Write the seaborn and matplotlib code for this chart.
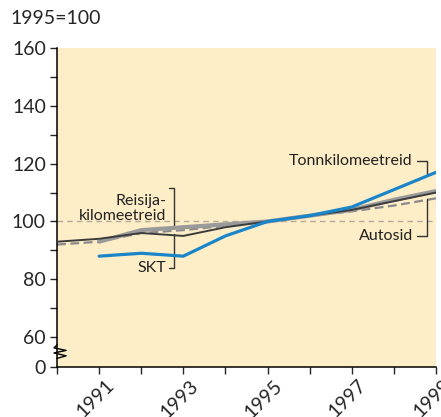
import numpy as np
import pandas as pd
import matplotlib
matplotlib.use('Agg')
import matplotlib.pyplot as plt
import matplotlib.transforms as mtransforms
import seaborn as sns

# values (1995 = 100)
years = [1990, 1991, 1992, 1993, 1994, 1995, 1996, 1997, 1998, 1999]
tonnkilomeetreid = [np.nan, 88, 89, 88, 95, 100, 102, 105, 111, 117]
skt = [93, 94, 96, 95, 98, 100, 102, 104, 107, 110]
reisijakilomeetreid = [np.nan, 93, 97, 98, 99, 100, 102, 104, 107.5, 110.5]
autosid = [92, 93, 96, 97, 98.5, 100, 102, 103.5, 105.5, 108]

y_ticks = [60, 70, 80, 90, 100, 110, 120, 130, 140, 150, 160]
year_labels = ['1991', '1993', '1995', '1997', '1999']

sns.set_style('white')
plt.rcParams['font.family'] = ['Lato', 'DejaVu Sans']

fig = plt.figure(figsize=(4.41, 4.17), dpi=100)
ax = fig.add_axes([0.1293, 0.1199, 0.8594, 0.765])
ax.set_facecolor('#fdeec8')

# axis break: value 0 sits 30px below 60
y_zero = 60 - 30 / 2.9
ax.set_ylim(y_zero, 160)
ax.set_xlim(1990, 1999)

ax.axhline(100, color='#b3aa99', lw=1, ls=(0, (4, 3)), zorder=1)

sns.lineplot(x=years, y=autosid, ax=ax, color='#8a8a8a', lw=1.6,
             linestyle=(0, (4, 2)), zorder=2)
sns.lineplot(x=years, y=reisijakilomeetreid, ax=ax, color='#9a9a9a', lw=3, zorder=3)
sns.lineplot(x=years, y=skt, ax=ax, color='#3c3c3c', lw=1.4, zorder=4)
sns.lineplot(x=years, y=tonnkilomeetreid, ax=ax, color='#1a85c9', lw=2.3, zorder=5)

for s in ['top', 'right']:
    ax.spines[s].set_visible(False)
for s in ['left', 'bottom']:
    ax.spines[s].set_color('black')
    ax.spines[s].set_linewidth(1.1)

ax.set_yticks([y_zero] + y_ticks)
ax.set_yticklabels(['0'] + [str(t) if t % 20 == 0 else '' for t in y_ticks])
ax.set_xticks(years)
ax.set_xticklabels([str(y) if str(y) in year_labels else '' for y in years],
                   rotation=45, ha='right', va='top', rotation_mode='anchor')
ax.tick_params(axis='y', length=5, width=1, direction='out', labelsize=14, pad=3, left=True)
ax.tick_params(axis='x', length=5, width=1, direction='out', labelsize=14, pad=2, bottom=True)
shift = mtransforms.ScaledTranslation(6 / 100, 0, fig.dpi_scale_trans)
for lab in ax.get_xticklabels():
    lab.set_transform(lab.get_transform() + shift)

# break symbol on the y axis
zz_y = 15 / 319
zx = np.array([0, -0.008, 0.024, -0.008, 0.024, 0])
zy = zz_y + np.array([0.022, 0.013, 0.005, -0.003, -0.012, -0.02])
ax.plot(zx, zy, transform=ax.transAxes, color='black', lw=1, clip_on=False, zorder=6)

# labels with bracket leaders
ax.text(1992.6, 104.5, 'Reisija-\nkilomeetreid', ha='right', va='center',
        fontsize=11.5, linespacing=1.15, color='#222222')
ax.plot([1992.65, 1992.77, 1992.77], [111.5, 111.5, 98.5], color='#333333', lw=1)
ax.text(1992.6, 84, 'SKT', ha='right', va='center', fontsize=11.5, color='#222222')
ax.plot([1992.65, 1992.77, 1992.77], [84, 84, 95.5], color='#333333', lw=1)

ax.text(1998.45, 121, 'Tonnkilomeetreid', ha='right', va='center', fontsize=11.5, color='#222222')
ax.plot([1998.55, 1998.79, 1998.79], [121, 121, 116.3], color='#333333', lw=1)
ax.text(1998.45, 95, 'Autosid', ha='right', va='center', fontsize=11.5, color='#222222')
ax.plot([1998.55, 1998.79, 1998.79], [95, 95, 107.7], color='#333333', lw=1)

fig.text(10 / 441, 1 - 18 / 417, '1995=100', ha='left', va='center', fontsize=14)

fig.savefig('out.png', dpi=100)
